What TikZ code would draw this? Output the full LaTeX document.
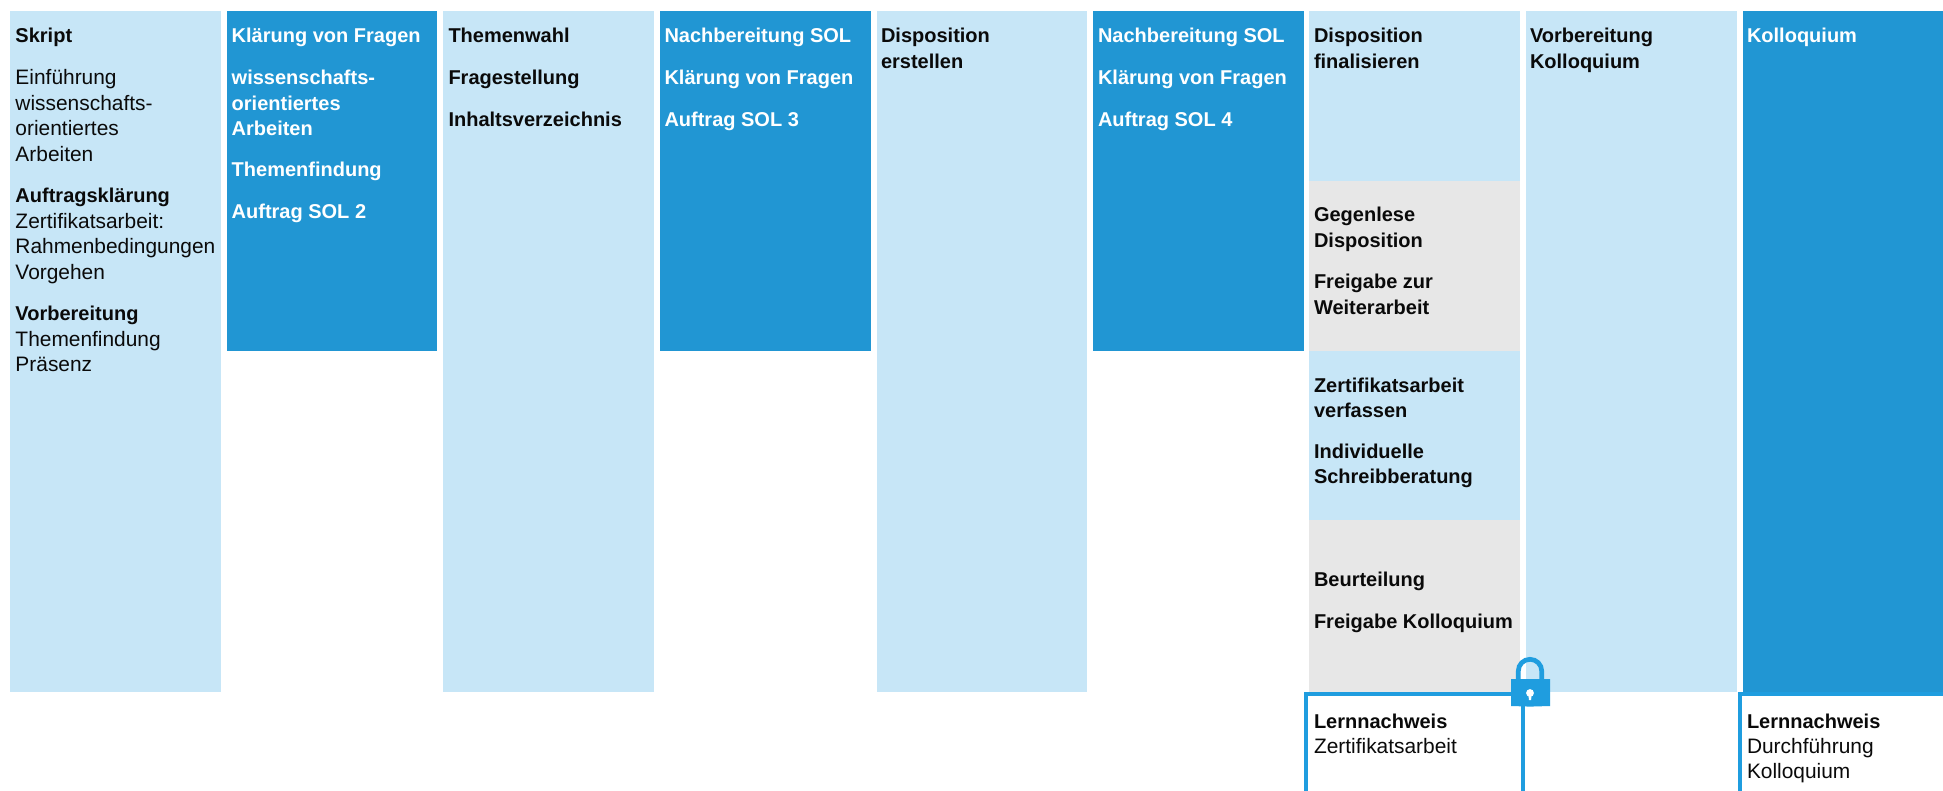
\documentclass[tikz,border=0pt]{standalone}
\usepackage{fontspec}
\setmainfont{Liberation Sans}
\definecolor{lightblue}{HTML}{C7E6F7}
\definecolor{darkblue}{HTML}{2196D3}
\definecolor{brightblue}{HTML}{1F9DDF}
\definecolor{lightgrey}{HTML}{E7E7E7}
\definecolor{inktext}{HTML}{0A0A0A}
\newcommand{\blocktext}[1]{\vtop{\hsize=330pt\parindent=0pt\baselineskip=25.4pt\lineskip=0pt\raggedright\strut #1\par}}
\newcommand{\bd}[1]{{\fontsize{20}{25}\selectfont\bfseries #1}}
\tikzset{
  x=1pt,y=-1pt,
  panel/.style={draw=none,rectangle,inner sep=0pt,outer sep=0pt,anchor=north west},
  lightpanel/.style={panel,fill=lightblue},
  darkpanel/.style={panel,fill=darkblue},
  greypanel/.style={panel,fill=lightgrey},
  label/.style={anchor=base west,inner sep=0pt,outer sep=0pt,text=inktext,font=\fontsize{20.9}{25}\selectfont},
  wlabel/.style={label,text=white},
  frameline/.style={draw=brightblue,line width=4.4pt,line cap=butt},
}
\begin{document}
\begin{tikzpicture}
\useasboundingbox (0,0) rectangle (1943,791);
\fill[white] (0,0) rectangle (1943,791);
% columns
\node[lightpanel,minimum width=211pt,minimum height=681pt] (c1) at (10,11) {};
\node[darkpanel,minimum width=210pt,minimum height=340pt] (c2) at (227,11) {};
\node[lightpanel,minimum width=211pt,minimum height=681pt] (c3) at (443,11) {};
\node[darkpanel,minimum width=211pt,minimum height=340pt] (c4) at (660,11) {};
\node[lightpanel,minimum width=210pt,minimum height=681pt] (c5) at (877,11) {};
\node[darkpanel,minimum width=211pt,minimum height=340pt] (c6) at (1093,11) {};
\node[lightpanel,minimum width=211pt,minimum height=170pt] (c7a) at (1309,11) {};
\node[greypanel,minimum width=211pt,minimum height=170pt] (c7b) at (1309,181) {};
\node[lightpanel,minimum width=211pt,minimum height=169pt] (c7c) at (1309,351) {};
\node[greypanel,minimum width=211pt,minimum height=172pt] (c7d) at (1309,520) {};
\node[lightpanel,minimum width=211pt,minimum height=681pt] (c8) at (1526,11) {};
\node[darkpanel,minimum width=200pt,minimum height=681pt] (c9) at (1743,11) {};
% frames
\coordinate (f1a) at (1305.7,791);
\coordinate (f1b) at (1305.7,694);
\coordinate (f1c) at (1522.8,694);
\coordinate (f1d) at (1522.8,791);
\draw[frameline] (f1a) -- (f1b) -- (f1c) -- (f1d);
\coordinate (f2a) at (1740,791);
\coordinate (f2b) at (1740,694);
\coordinate (f2c) at (1943,694);
\draw[frameline] (f2a) -- (f2b) -- (f2c);
% lock
\draw[draw=brightblue,line width=4.7pt] (1518.3,682) -- (1518.3,671) arc[start angle=180,end angle=360,radius=11.7] -- (1541.7,682);
\fill[brightblue] (1511,679) -- (1550,679) -- (1550,706) -- (1530,706.6) -- (1511,706) -- cycle;
\fill[white] (1530,693) circle[radius=3.9];
\fill[white] (1528.4,694) -- (1531.6,694) -- (1531.1,700) -- (1528.9,700) -- cycle;
% text
\node[label] (t1a) at (15.5,43) {\blocktext{\bd{Skript}}};
\node[label] (t1b) at (15.5,85) {\blocktext{Einführung\\wissenschafts-\\orientiertes\\Arbeiten}};
\node[label] (t1c) at (15.5,203) {\blocktext{\bd{Auftragsklärung}\\Zertifikatsarbeit:\\Rahmenbedingungen\\Vorgehen}};
\node[label] (t1d) at (15.5,321) {\blocktext{\bd{Vorbereitung}\\Themenfindung\\Präsenz}};
\node[wlabel] (t2a) at (231.7,43) {\blocktext{\bd{Klärung von Fragen}}};
\node[wlabel] (t2b) at (231.7,85) {\blocktext{\bd{wissenschafts-}\\\bd{orientiertes}\\\bd{Arbeiten}}};
\node[wlabel] (t2c) at (231.7,177) {\blocktext{\bd{Themenfindung}}};
\node[wlabel] (t2d) at (231.7,219) {\blocktext{\bd{Auftrag SOL 2}}};
\node[label] (t3a) at (448.5,43) {\blocktext{\bd{Themenwahl}}};
\node[label] (t3b) at (448.5,85) {\blocktext{\bd{Fragestellung}}};
\node[label] (t3c) at (448.5,127) {\blocktext{\bd{Inhaltsverzeichnis}}};
\node[wlabel] (t4a) at (664.5,43) {\blocktext{\bd{Nachbereitung SOL}}};
\node[wlabel] (t4b) at (664.5,85) {\blocktext{\bd{Klärung von Fragen}}};
\node[wlabel] (t4c) at (664.5,127) {\blocktext{\bd{Auftrag SOL 3}}};
\node[label] (t5a) at (881,43) {\blocktext{\bd{Disposition}\\\bd{erstellen}}};
\node[wlabel] (t6a) at (1098,43) {\blocktext{\bd{Nachbereitung SOL}}};
\node[wlabel] (t6b) at (1098,85) {\blocktext{\bd{Klärung von Fragen}}};
\node[wlabel] (t6c) at (1098,127) {\blocktext{\bd{Auftrag SOL 4}}};
\node[label] (t7a) at (1314,43) {\blocktext{\bd{Disposition}\\\bd{finalisieren}}};
\node[label] (t7b) at (1314,222) {\blocktext{\bd{Gegenlese}\\\bd{Disposition}}};
\node[label] (t7c) at (1314,289) {\blocktext{\bd{Freigabe zur}\\\bd{Weiterarbeit}}};
\node[label] (t7d) at (1314,392) {\blocktext{\bd{Zertifikatsarbeit}\\\bd{verfassen}}};
\node[label] (t7e) at (1314,458) {\blocktext{\bd{Individuelle}\\\bd{Schreibberatung}}};
\node[label] (t7f) at (1314,586) {\blocktext{\bd{Beurteilung}}};
\node[label] (t7g) at (1314,628) {\blocktext{\bd{Freigabe Kolloquium}}};
\node[label] (t8a) at (1530,43) {\blocktext{\bd{Vorbereitung}\\\bd{Kolloquium}}};
\node[wlabel] (t9a) at (1747,43) {\blocktext{\bd{Kolloquium}}};
\node[label] (t10a) at (1314,728) {\blocktext{\bd{Lernnachweis}\\Zertifikatsarbeit}};
\node[label] (t11a) at (1747,728) {\blocktext{\bd{Lernnachweis}\\Durchführung\\Kolloquium}};
\end{tikzpicture}
\end{document}
